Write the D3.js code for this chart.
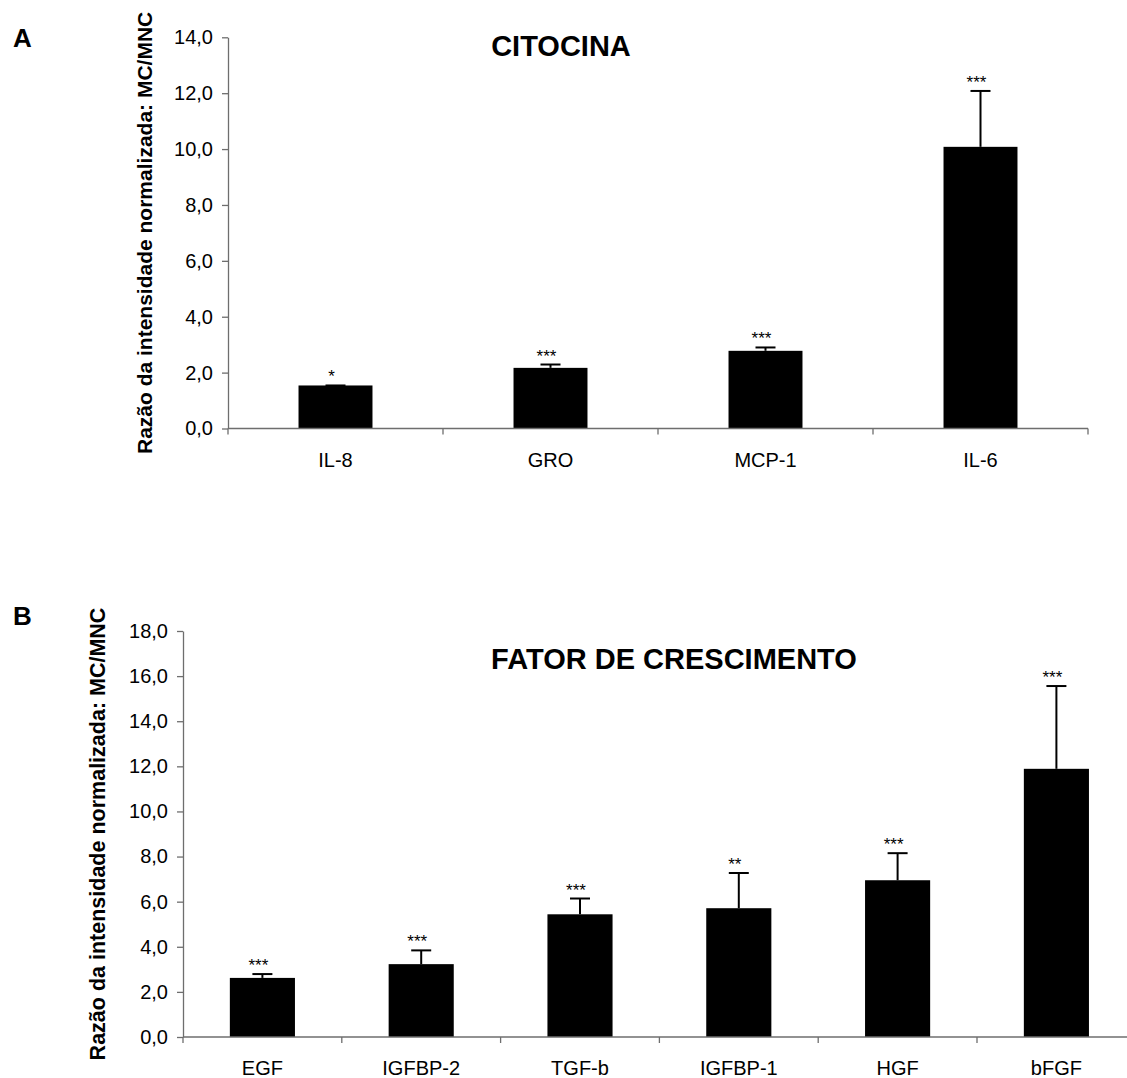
<!DOCTYPE html>
<html><head><meta charset="utf-8">
<script src="https://cdn.jsdelivr.net/npm/d3@7"></script>
<style>
html,body{margin:0;padding:0;background:#fff;}
svg{display:block;font-family:"Liberation Sans",Arial,sans-serif;}
</style></head>
<body><svg id="c" width="1127" height="1078"></svg>
<script>
const catA = ["IL-8","GRO","MCP-1","IL-6"];
const valA = [1.54, 2.17, 2.78, 10.08];
const errA = [0.0, 0.12, 0.12, 2.0];
const sigA = ["*","***","***","***"];
const tickA = [0,2,4,6,8,10,12,14];

const catB = ["EGF","IGFBP-2","TGF-b","IGFBP-1","HGF","bFGF"];
const valB = [2.62, 3.23, 5.44, 5.71, 6.95, 11.89];
const errB = [0.17, 0.61, 0.70, 1.56, 1.20, 3.67];
const sigB = ["***","***","***","**","***","***"];
const tickB = [0,2,4,6,8,10,12,14,16,18];

const yLabel = "Razão da intensidade normalizada: MC/MNC";
const fmt = d3.formatLocale({decimal:",",thousands:".",grouping:[3],currency:["",""]}).format(".1f");
const svg = d3.select("#c");
const axisColor = "#6e6e6e";

function panel(o){
  const g = svg.append("g");
  const x = d3.scaleBand().domain(o.cats).range([o.x0, o.x0 + o.step*o.cats.length]).paddingInner(o.pad).paddingOuter(o.pad/2);
  const y = d3.scaleLinear().domain([0, d3.max(o.ticks)]).range([o.y0, o.y1]);
  g.selectAll("rect.bar").data(o.cats).join("rect")
    .attr("x", d=>x(d)).attr("width", x.bandwidth())
    .attr("y", (d,i)=>y(o.vals[i])).attr("height",(d,i)=>y(0)-y(o.vals[i]))
    .attr("fill","#000");
  const cx = d=>x(d)+x.bandwidth()/2;
  g.selectAll("line.err").data(o.cats).join("line")
    .attr("x1",cx).attr("x2",cx)
    .attr("y1",(d,i)=>y(o.vals[i])).attr("y2",(d,i)=>y(o.vals[i]+o.errs[i]))
    .attr("stroke","#000").attr("stroke-width",2);
  g.selectAll("line.cap").data(o.cats).join("line")
    .attr("x1",d=>cx(d)-10).attr("x2",d=>cx(d)+10)
    .attr("y1",(d,i)=>y(o.vals[i]+o.errs[i])).attr("y2",(d,i)=>y(o.vals[i]+o.errs[i]))
    .attr("stroke","#000").attr("stroke-width",2);
  g.selectAll("text.sig").data(o.cats).join("text")
    .attr("x",d=>cx(d)-4).attr("y",(d,i)=>y(o.vals[i]+o.errs[i])-3)
    .attr("text-anchor","middle").attr("font-size",17).attr("fill","#000")
    .text((d,i)=>o.sigs[i]);
  const ya = g.append("g").attr("transform",`translate(${o.x0},0)`)
    .call(d3.axisLeft(y).tickValues(o.ticks).tickFormat(fmt).tickSize(6).tickPadding(9).tickSizeOuter(0));
  ya.select(".domain").attr("stroke",axisColor).attr("stroke-width",1.3);
  ya.selectAll(".tick line").attr("stroke",axisColor).attr("stroke-width",1.3);
  ya.selectAll(".tick text").attr("font-size",20).attr("fill","#000").attr("font-family","Liberation Sans, Arial, sans-serif");
  const xa = g.append("g").attr("transform",`translate(0,${o.y0})`)
    .call(d3.axisBottom(x).tickSize(0).tickPadding(24).tickSizeOuter(0));
  xa.select(".domain").remove();
  xa.selectAll(".tick text").attr("font-size",20).attr("fill","#000").attr("font-family","Liberation Sans, Arial, sans-serif");
  const [r0, r1] = x.range();
  g.append("line").attr("x1",r0).attr("x2",r1).attr("y1",y(0)).attr("y2",y(0))
    .attr("stroke",axisColor).attr("stroke-width",1.3);
  const bounds = d3.range(o.cats.length+1).map(i=>r0 + i*x.step());
  g.selectAll("line.bt").data(bounds).join("line")
    .attr("x1",d=>d).attr("x2",d=>d).attr("y1",y(0)).attr("y2",y(0)+6)
    .attr("stroke",axisColor).attr("stroke-width",1.3);
  g.append("text").attr("transform",`translate(${o.labX},${(o.y0+o.y1)/2}) rotate(-90)`)
    .attr("text-anchor","middle").attr("font-size",o.labSize).attr("font-weight","bold").text(yLabel);
  g.append("text").attr("x",o.titleX).attr("y",o.titleY).attr("text-anchor","middle")
    .attr("font-size",29).attr("font-weight","bold").text(o.title);
  g.append("text").attr("x",13).attr("y",o.letterY).attr("font-size",26).attr("font-weight","bold").text(o.letter);
}

panel({cats:catA, vals:valA, errs:errA, sigs:sigA, ticks:tickA,
  x0:228, step:215, pad:0.656, y0:428.5, y1:37.3, labX:152, labSize:21,
  title:"CITOCINA", titleX:561, titleY:56, letter:"A", letterY:47});
panel({cats:catB, vals:valB, errs:errB, sigs:sigB, ticks:tickB,
  x0:183, step:158.8, pad:0.59, y0:1037, y1:631, labX:105, labSize:21.5,
  title:"FATOR DE CRESCIMENTO", titleX:674, titleY:669, letter:"B", letterY:625});
</script>
</body></html>
